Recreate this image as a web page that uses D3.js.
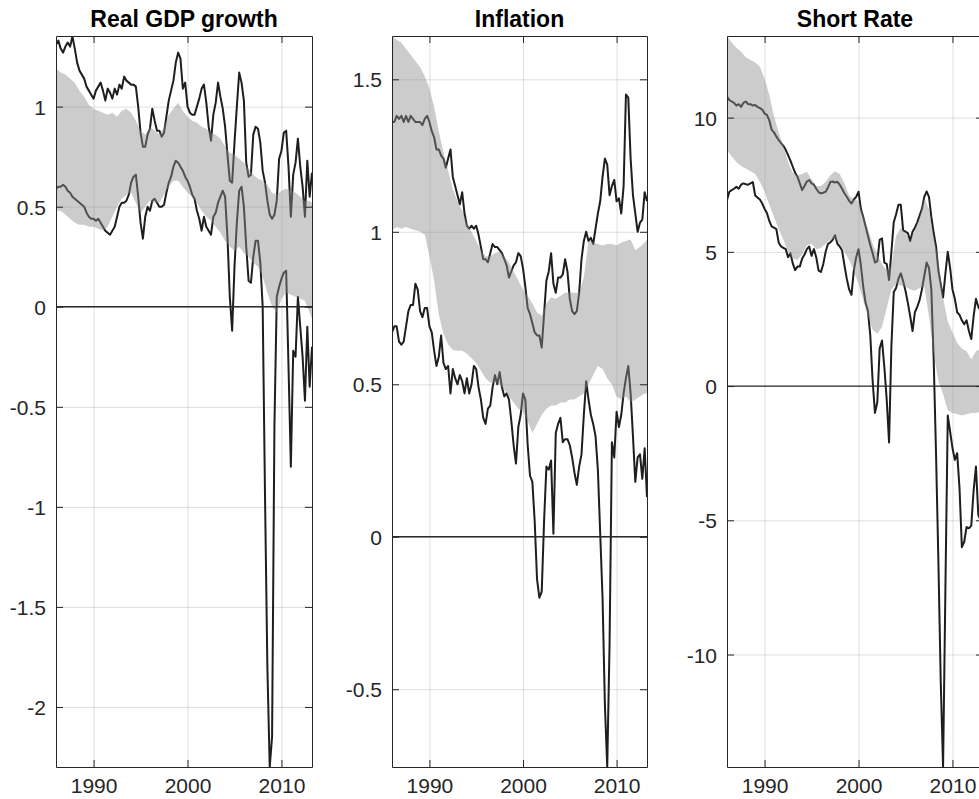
<!DOCTYPE html>
<html>
<head>
<meta charset="utf-8">
<script src="https://cdn.jsdelivr.net/npm/d3@7"></script>
<style>
  body { margin: 0; background: #fff; }
  svg { display: block; font-family: "Liberation Sans", Arial, Helvetica, sans-serif; }
</style>
</head>
<body>
<script>
'use strict';

// quarterly dates for the lines, half-yearly dates for the shaded bands
const quarters = d3.range(110).map(i => 1986 + i * 0.25);
const halfYears = d3.range(55).map(k => 1986 + k * 0.5).concat([2013.25]);

const yearTicks = [1990, 2000, 2010];

// ---- Real GDP growth ----
const gdpUpper = [
  1.31, 1.33, 1.29, 1.27, 1.30, 1.32, 1.30, 1.35, 1.29, 1.22,
  1.18, 1.16, 1.14, 1.10, 1.08, 1.06, 1.04, 1.08, 1.10, 1.12,
  1.08, 1.03, 1.09, 1.07, 1.04, 1.09, 1.06, 1.11, 1.09, 1.15,
  1.13, 1.12, 1.11, 1.11, 1.10, 1.00, 0.87, 0.80, 0.80, 0.86,
  0.89, 0.99, 0.93, 0.88, 0.88, 0.85, 0.87, 0.95, 1.03, 1.08,
  1.13, 1.22, 1.27, 1.24, 1.09, 1.12, 1.00, 0.97, 0.96, 0.96,
  1.00, 1.04, 1.09, 1.11, 1.02, 0.90, 0.83, 0.96, 1.02, 1.12,
  1.05, 0.99, 0.90, 0.76, 0.63, 0.62, 0.82, 1.00, 1.17, 1.12,
  1.03, 0.72, 0.65, 0.66, 0.86, 0.90, 0.89, 0.82, 0.68, 0.62,
  0.53, 0.46, 0.44, 0.46, 0.53, 0.74, 0.78, 0.87, 0.88, 0.70,
  0.45, 0.66, 0.72, 0.84, 0.70, 0.60, 0.45, 0.73, 0.55, 0.67
];
const gdpLower = [
  0.59, 0.60, 0.60, 0.61, 0.60, 0.58, 0.57, 0.55, 0.54, 0.53,
  0.52, 0.51, 0.50, 0.47, 0.45, 0.44, 0.44, 0.43, 0.44, 0.42,
  0.40, 0.38, 0.37, 0.36, 0.38, 0.40, 0.45, 0.50, 0.52, 0.52,
  0.53, 0.56, 0.62, 0.65, 0.66, 0.55, 0.42, 0.34, 0.45, 0.50,
  0.48, 0.53, 0.54, 0.52, 0.50, 0.50, 0.51, 0.57, 0.62, 0.65,
  0.70, 0.73, 0.72, 0.70, 0.68, 0.65, 0.63, 0.60, 0.56, 0.54,
  0.48, 0.44, 0.38, 0.45, 0.40, 0.38, 0.36, 0.45, 0.47, 0.52,
  0.55, 0.58, 0.55, 0.35, 0.05, -0.12, 0.20, 0.42, 0.58, 0.60,
  0.50, 0.30, 0.13, 0.12, 0.25, 0.33, 0.33, 0.22, 0.00, -0.95,
  -1.80, -2.30, -2.15, -0.60, 0.05, 0.10, 0.14, 0.17, 0.18, -0.30,
  -0.80, -0.22, -0.25, 0.05, -0.10, -0.25, -0.47, -0.10, -0.40, -0.20
];
const gdpBandHi = [
  1.19, 1.17, 1.16, 1.14, 1.12, 1.08, 1.05, 1.01, 0.99, 0.98,
  0.97, 0.96, 0.97, 0.95, 0.98, 0.99, 0.97, 0.93, 0.88, 0.86,
  0.90, 0.88, 0.86, 0.90, 0.96, 0.99, 1.02, 0.98, 0.95, 0.93,
  0.92, 0.90, 0.89, 0.87, 0.86, 0.84, 0.80, 0.77, 0.76, 0.74,
  0.72, 0.69, 0.66, 0.64, 0.63, 0.61, 0.57, 0.56, 0.58, 0.59,
  0.58, 0.57, 0.55, 0.53, 0.53, 0.52
];
const gdpBandLo = [
  0.48, 0.48, 0.46, 0.44, 0.42, 0.41, 0.41, 0.40, 0.40, 0.39,
  0.38, 0.40, 0.45, 0.50, 0.54, 0.56, 0.57, 0.52, 0.47, 0.50,
  0.53, 0.52, 0.52, 0.56, 0.60, 0.63, 0.63, 0.60, 0.57, 0.55,
  0.52, 0.48, 0.45, 0.43, 0.40, 0.37, 0.33, 0.30, 0.28, 0.30,
  0.27, 0.25, 0.22, 0.20, 0.15, 0.07, 0.00, -0.03, 0.04, 0.07,
  0.06, 0.05, 0.04, 0.03, -0.03, -0.06
];
const gdpTicks = [-2, -1.5, -1, -0.5, 0, 0.5, 1];

// ---- Inflation ----
const inflUpper = [
  1.36, 1.36, 1.38, 1.37, 1.38, 1.36, 1.38, 1.36, 1.38, 1.37,
  1.36, 1.36, 1.36, 1.35, 1.37, 1.38, 1.36, 1.33, 1.31, 1.27,
  1.27, 1.25, 1.24, 1.21, 1.24, 1.27, 1.18, 1.15, 1.12, 1.09,
  1.13, 1.06, 1.02, 1.01, 1.02, 1.01, 1.02, 0.99, 0.95, 0.91,
  0.91, 0.90, 0.93, 0.96, 0.95, 0.95, 0.94, 0.93, 0.91, 0.89,
  0.85, 0.87, 0.89, 0.90, 0.93, 0.92, 0.88, 0.82, 0.75, 0.73,
  0.70, 0.67, 0.66, 0.66, 0.62, 0.73, 0.84, 0.87, 0.93, 0.83,
  0.80, 0.85, 0.85, 0.86, 0.91, 0.87, 0.78, 0.74, 0.73, 0.74,
  0.80, 0.91, 0.97, 1.00, 0.97, 0.98, 0.96, 1.01, 1.06, 1.10,
  1.18, 1.24, 1.22, 1.12, 1.15, 1.17, 1.10, 1.11, 1.06, 1.15,
  1.45, 1.44, 1.24, 1.12, 1.06, 1.00, 1.03, 1.04, 1.13, 1.10
];
const inflLower = [
  0.67, 0.69, 0.69, 0.64, 0.63, 0.64, 0.69, 0.74, 0.76, 0.76,
  0.83, 0.81, 0.74, 0.72, 0.75, 0.75, 0.69, 0.67, 0.61, 0.56,
  0.59, 0.66, 0.57, 0.55, 0.56, 0.47, 0.55, 0.52, 0.50, 0.53,
  0.51, 0.47, 0.52, 0.47, 0.50, 0.56, 0.55, 0.49, 0.45, 0.39,
  0.37, 0.42, 0.43, 0.49, 0.53, 0.50, 0.54, 0.49, 0.46, 0.47,
  0.45, 0.38, 0.30, 0.24, 0.36, 0.40, 0.47, 0.45, 0.30, 0.20,
  0.18, 0.05, -0.14, -0.20, -0.18, 0.05, 0.23, 0.22, 0.25, 0.01,
  0.34, 0.37, 0.39, 0.31, 0.32, 0.32, 0.30, 0.26, 0.21, 0.17,
  0.23, 0.27, 0.40, 0.51, 0.45, 0.40, 0.37, 0.33, 0.22, 0.01,
  -0.20, -0.55, -0.755, -0.35, 0.31, 0.26, 0.41, 0.36, 0.40, 0.47,
  0.52, 0.56, 0.47, 0.33, 0.18, 0.26, 0.27, 0.19, 0.29, 0.13
];
const inflBandHi = [
  1.642, 1.63, 1.62, 1.60, 1.58, 1.56, 1.54, 1.51, 1.47, 1.41,
  1.33, 1.26, 1.20, 1.14, 1.10, 1.07, 1.03, 1.00, 0.97, 0.94,
  0.92, 0.92, 0.93, 0.935, 0.92, 0.90, 0.87, 0.84, 0.81, 0.79,
  0.765, 0.735, 0.725, 0.765, 0.785, 0.78, 0.79, 0.80, 0.80, 0.80,
  0.80, 0.85, 0.97, 0.965, 0.96, 0.955, 0.96, 0.96, 0.955, 0.965,
  0.97, 0.975, 0.94, 0.95, 0.965, 0.975
];
const inflBandLo = [
  1.005, 1.016, 1.01, 1.016, 1.01, 1.005, 1.00, 0.99, 0.92, 0.84,
  0.73, 0.665, 0.63, 0.612, 0.61, 0.61, 0.60, 0.585, 0.57, 0.545,
  0.52, 0.505, 0.505, 0.50, 0.48, 0.46, 0.44, 0.42, 0.41, 0.38,
  0.34, 0.37, 0.40, 0.42, 0.43, 0.43, 0.44, 0.44, 0.45, 0.45,
  0.46, 0.47, 0.50, 0.53, 0.56, 0.55, 0.52, 0.50, 0.46, 0.45,
  0.46, 0.44, 0.45, 0.46, 0.47, 0.47
];
const inflTicks = [-0.5, 0, 0.5, 1, 1.5];

// ---- Short Rate ----
const rateUpper = [
  10.78, 10.65, 10.60, 10.55, 10.45, 10.50, 10.40, 10.55, 10.60, 10.50,
  10.50, 10.45, 10.47, 10.40, 10.35, 10.30, 10.15, 10.10, 9.90, 9.55,
  9.45, 9.30, 9.16, 9.05, 8.95, 8.80, 8.60, 8.40, 8.17, 7.95,
  7.80, 7.55, 7.30, 7.45, 7.62, 7.67, 7.55, 7.50, 7.35, 7.22,
  7.18, 7.20, 7.24, 7.40, 7.60, 7.62, 7.58, 7.61, 7.50, 7.35,
  7.18, 7.05, 6.90, 6.80, 6.95, 7.05, 7.24, 6.60, 6.30, 5.95,
  5.60, 5.25, 4.95, 4.60, 4.65, 5.45, 5.50, 4.60, 4.55, 3.95,
  5.00, 6.10, 6.40, 6.75, 6.75, 5.80, 5.75, 5.70, 5.40, 5.75,
  5.90, 6.10, 6.35, 6.60, 7.05, 7.25, 7.05, 6.30, 5.70, 5.20,
  4.30, 3.80, 3.30, 4.20, 5.00, 4.40, 3.60, 3.25, 2.75, 2.65,
  2.45, 2.30, 2.45, 2.05, 1.75, 2.60, 3.25, 2.95, 2.80, 3.00
];
const rateLower = [
  6.93, 7.24, 7.30, 7.35, 7.42, 7.35, 7.50, 7.55, 7.52, 7.50,
  7.55, 7.60, 7.10, 7.02, 6.95, 6.80, 6.60, 6.45, 6.15, 5.95,
  5.90, 5.85, 5.35, 5.20, 5.15, 5.10, 4.80, 4.95, 4.57, 4.32,
  4.45, 4.45, 4.75, 4.90, 5.10, 5.20, 4.85, 5.10, 4.80, 4.30,
  4.25, 4.55, 5.00, 5.30, 5.35, 5.45, 5.62, 5.30, 5.20, 5.05,
  4.50, 4.00, 3.60, 3.40, 4.30, 4.80, 5.10, 4.50, 3.70, 3.10,
  2.80, 1.90, 0.20, -1.00, -0.60, 1.40, 1.70, 0.70, -0.50, -2.10,
  1.50, 3.50, 3.65, 4.00, 4.20, 3.90, 3.55, 3.10, 2.60, 2.05,
  2.75, 2.95, 3.20, 3.60, 4.10, 4.60, 4.40, 3.60, 1.00, -2.50,
  -6.50, -11.00, -14.19, -7.50, -1.10, -1.70, -2.30, -2.75, -2.50, -3.80,
  -6.00, -5.80, -5.25, -5.30, -5.20, -3.90, -3.00, -4.80, -5.00, -4.70
];
const rateBandHi = [
  13.04, 12.8, 12.6, 12.45, 12.25, 12.15, 12.05, 11.9, 11.45, 10.85,
  10.05, 9.45, 8.95, 8.35, 7.95, 7.85, 7.9, 7.98, 7.7, 7.45,
  7.45, 7.6, 7.85, 8.0, 7.9, 7.55, 7.1, 6.95, 6.9, 6.35,
  5.85, 5.3, 4.9, 4.55, 4.3, 4.5, 5.6, 5.9, 5.7, 5.4,
  5.8, 6.3, 7.0, 6.6, 5.6, 4.7, 3.3, 2.4, 2.0, 1.6,
  1.4, 1.3, 1.0, 1.3, 1.4, 1.45
];
const rateBandLo = [
  8.8, 8.55, 8.35, 8.2, 8.1, 8.0, 7.9, 7.6, 7.25, 6.75,
  6.3, 5.85, 5.45, 5.0, 4.75, 4.7, 4.9, 5.25, 5.3, 5.1,
  5.15, 5.3, 5.45, 5.5, 5.3, 5.0, 4.7, 4.3, 3.8, 3.2,
  2.6, 2.1, 1.95, 2.2, 2.9, 3.6, 3.8, 3.75, 3.7, 3.6,
  3.55, 3.65, 3.7, 2.6, 1.2, 0.2, -0.3, -0.9, -1.0, -1.05,
  -1.1, -1.05, -1.0, -1.0, -0.95, -0.9
];
const rateTicks = [-10, -5, 0, 5, 10];

// panel layout (pixel positions of each axes box)
const panels = [
  { title: "Real GDP growth", upper: gdpUpper, lower: gdpLower, hi: gdpBandHi, lo: gdpBandLo,
    yDomain: [-2.30, 1.353], yTicks: gdpTicks, left: 56, right: 312 },
  { title: "Inflation", upper: inflUpper, lower: inflLower, hi: inflBandHi, lo: inflBandLo,
    yDomain: [-0.755, 1.642], yTicks: inflTicks, left: 392, right: 647 },
  { title: "Short Rate", upper: rateUpper, lower: rateLower, hi: rateBandHi, lo: rateBandLo,
    yDomain: [-14.19, 13.04], yTicks: rateTicks, left: 727, right: 983 }
];

const plotTop = 36;
const plotBottom = 767;
const axisColor = "#262626";

const svg = d3.select("body")
  .append("svg")
  .attr("width", 979)
  .attr("height", 799);

panels.forEach((p, idx) => drawPanel(p, idx));

// one axes box: grid, lines, shaded band, zero line, ticks and title
function drawPanel(p, idx) {
  let x = d3.scaleLinear().domain([1986, 2013.25]).range([p.left, p.right]);
  let y = d3.scaleLinear().domain(p.yDomain).range([plotBottom, plotTop]);
  let w = p.right - p.left;
  let h = plotBottom - plotTop;

  let g = svg.append("g");

  // clip the marks to the axes area
  let clipId = "clip" + idx;
  g.append("clipPath").attr("id", clipId)
    .append("rect")
    .attr("x", p.left).attr("y", plotTop)
    .attr("width", w).attr("height", h);

  // grid lines
  g.append("g")
    .attr("transform", "translate(0," + plotBottom + ")")
    .call(d3.axisBottom(x).tickValues(yearTicks).tickSize(-h).tickFormat(""))
    .call(s => s.select(".domain").remove())
    .selectAll("line")
    .attr("stroke", axisColor).attr("stroke-opacity", 0.15);
  g.append("g")
    .attr("transform", "translate(" + p.left + ",0)")
    .call(d3.axisLeft(y).tickValues(p.yTicks).tickSize(-w).tickFormat(""))
    .call(s => s.select(".domain").remove())
    .selectAll("line")
    .attr("stroke", axisColor).attr("stroke-opacity", 0.15);

  let plot = g.append("g").attr("clip-path", "url(#" + clipId + ")");

  // data lines (drawn first so the translucent band greys them)
  let line = d3.line()
    .x((d, i) => x(quarters[i]))
    .y(d => y(d));
  [p.upper, p.lower].forEach(series => {
    plot.append("path")
      .datum(series)
      .attr("d", line)
      .attr("fill", "none")
      .attr("stroke", "#1e1e1e")
      .attr("stroke-width", 2)
      .attr("stroke-linejoin", "round");
  });

  // shaded band
  let area = d3.area()
    .x((d, i) => x(halfYears[i]))
    .y0(d => y(d[0]))
    .y1(d => y(d[1]));
  plot.append("path")
    .datum(p.lo.map((v, i) => [v, p.hi[i]]))
    .attr("d", area)
    .attr("fill", "#8e8e8e")
    .attr("fill-opacity", 0.45);

  // zero line
  plot.append("path")
    .datum(x.domain())
    .attr("d", d3.line().x(d => x(d)).y(() => y(0)))
    .attr("stroke", "#2a2a2a")
    .attr("stroke-width", 1.3);

  // axes with inward ticks on all four sides
  let axisStyle = s => {
    s.attr("color", axisColor);
    s.select(".domain").attr("stroke-width", 1);
    s.selectAll("text")
      .attr("font-size", 21)
      .attr("font-family", "'Liberation Sans', Arial, Helvetica, sans-serif");
  };
  g.append("g")
    .attr("transform", "translate(0," + plotBottom + ")")
    .call(d3.axisBottom(x).tickValues(yearTicks).tickSizeInner(-7).tickSizeOuter(0)
      .tickPadding(10).tickFormat(d3.format("d")))
    .call(axisStyle)
    .selectAll("text").attr("dy", "0.78em");
  g.append("g")
    .attr("transform", "translate(0," + plotTop + ")")
    .call(d3.axisTop(x).tickValues(yearTicks).tickSizeInner(-7).tickSizeOuter(0).tickFormat(""))
    .call(axisStyle);
  g.append("g")
    .attr("transform", "translate(" + p.left + ",0)")
    .call(d3.axisLeft(y).tickValues(p.yTicks).tickSizeInner(-7).tickSizeOuter(0)
      .tickPadding(10).tickFormat(d => String(d)))
    .call(axisStyle)
    .selectAll("text").attr("dy", "0.36em");
  g.append("g")
    .attr("transform", "translate(" + p.right + ",0)")
    .call(d3.axisRight(y).tickValues(p.yTicks).tickSizeInner(-7).tickSizeOuter(0).tickFormat(""))
    .call(axisStyle);

  // title
  g.append("text")
    .attr("x", (p.left + p.right) / 2)
    .attr("y", 27)
    .attr("text-anchor", "middle")
    .attr("font-size", 23)
    .attr("font-weight", "bold")
    .attr("fill", "#000")
    .text(p.title);
}
</script>
</body>
</html>
